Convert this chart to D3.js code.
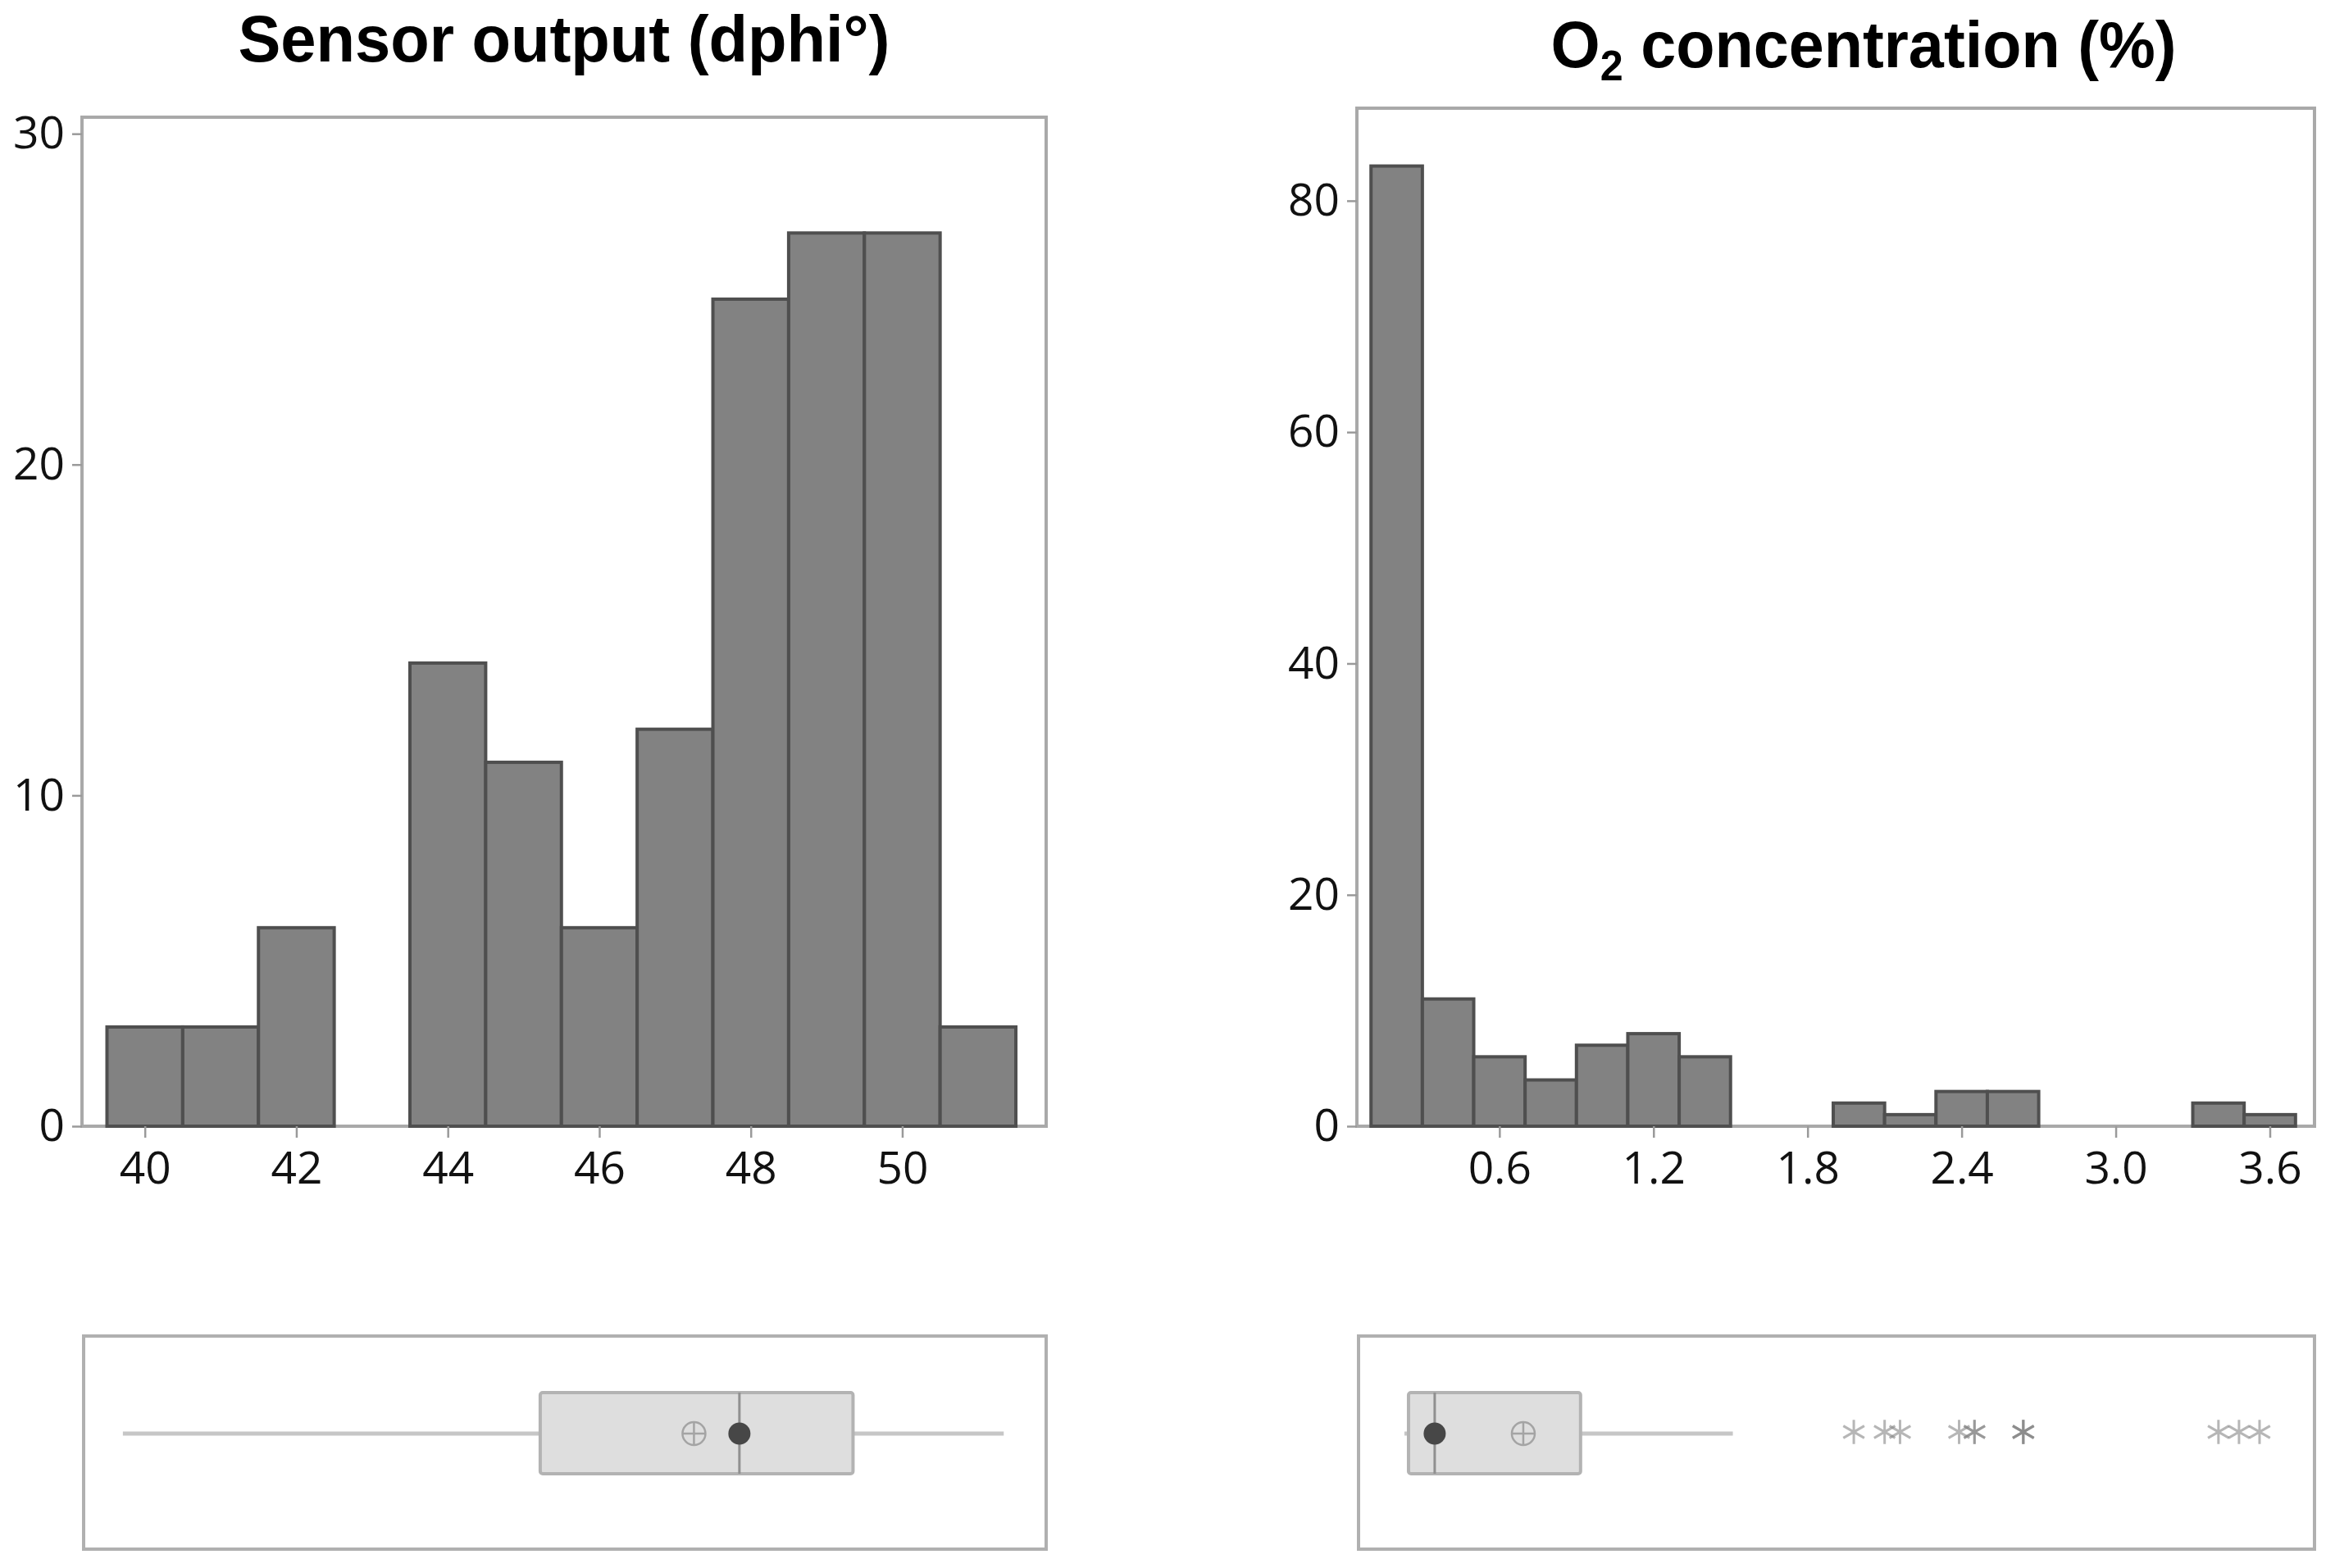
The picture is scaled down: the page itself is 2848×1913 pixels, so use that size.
<!DOCTYPE html>
<html>
<head>
<meta charset="utf-8">
<script src="https://cdn.jsdelivr.net/npm/d3@7"></script>
<style>
body { margin: 0; background: #fff; }
.tick text { font-family: "Open Sans", sans-serif; font-size: 55px; fill: #111; }
.title { font-family: "Liberation Sans", Arial, sans-serif; font-weight: bold; font-size: 80px; fill: #000; }
</style>
</head>
<body>
<div class="chart"></div>
<script>
// Sensor output (dphi) histogram + boxplot
var sensorEdges = [39.5, 40.5, 41.5, 42.5, 43.5, 44.5, 45.5, 46.5, 47.5, 48.5, 49.5, 50.5, 51.5];
var sensorCounts = [3, 3, 6, 0, 14, 11, 6, 12, 25, 27, 27, 3];
var sensorXTicks = [40, 42, 44, 46, 48, 50];
var sensorYTicks = [0, 10, 20, 30];
var sensorBox = [39.71, 45.22, 47.85, 49.35, 51.34]; // min, q1, median, q3, max
var sensorMean = 47.25;

// O2 concentration histogram + boxplot
var o2Edges = [0.1, 0.3, 0.5, 0.7, 0.9, 1.1, 1.3, 1.5, 1.7, 1.9, 2.1, 2.3, 2.5, 2.7, 2.9, 3.1, 3.3, 3.5, 3.7];
var o2Counts = [83, 11, 6, 4, 7, 8, 6, 0, 0, 2, 1, 3, 3, 0, 0, 0, 2, 1];
var o2XTicks = [0.6, 1.2, 1.8, 2.4, 3.0, 3.6];
var o2YTicks = [0, 20, 40, 60, 80];
var o2Box = [0.23, 0.246, 0.348, 0.916, 1.509];
var o2Mean = 0.693;
var o2Outliers = [1.98, 2.10, 2.16, 2.39, 2.45, 2.45, 2.64, 2.64, 2.64, 3.40, 3.48, 3.56];

var width = 2848;
var height = 1913;

var svg = d3.select('div.chart')
    .append('svg')
    .attr('width', width)
    .attr('height', height);

svg.append('rect').attr('width', width).attr('height', height).attr('fill', '#fff');

function drawPanel(p) {
    var x = d3.scaleLinear().domain(p.xDomain).range([p.left, p.right]);
    var y = d3.scaleLinear().domain(p.yDomain).range([1374, p.top]);

    // frame
    svg.append('rect')
        .attr('x', p.left).attr('y', p.top)
        .attr('width', p.right - p.left).attr('height', 1374 - p.top)
        .attr('fill', 'none').attr('stroke', '#a9a9a9').attr('stroke-width', 4);

    var bins = p.counts.map(function (c, i) {
        return { x0: p.edges[i], x1: p.edges[i + 1], n: c };
    });

    svg.append('g').selectAll('rect')
        .data(bins)
        .enter()
        .append('rect')
        .attr('x', d => x(d.x0))
        .attr('width', d => x(d.x1) - x(d.x0))
        .attr('y', d => y(d.n))
        .attr('height', d => y(0) - y(d.n))
        .attr('fill', '#828282')
        .attr('stroke', '#4f4f4f')
        .attr('stroke-width', 4);

    var xAxis = svg.append('g')
        .attr('transform', 'translate(0,1374)')
        .call(d3.axisBottom(x).tickValues(p.xTicks).tickFormat(p.fmt).tickSize(14).tickPadding(17));
    var yAxis = svg.append('g')
        .attr('transform', 'translate(' + p.left + ',0)')
        .call(d3.axisLeft(y).tickValues(p.yTicks).tickSize(12).tickPadding(9));
    [xAxis, yAxis].forEach(function (a) {
        a.select('.domain').remove();
        a.selectAll('.tick line').attr('stroke', '#9a9a9a').attr('stroke-width', 2.5);
        a.selectAll('.tick text').attr('font-size', null).attr('font-family', null);
    });

    // title
    var t = svg.append('text')
        .attr('class', 'title')
        .attr('x', p.titleX).attr('y', p.titleY)
        .attr('text-anchor', 'middle')
        .attr('textLength', p.titleLen)
        .attr('lengthAdjust', 'spacingAndGlyphs');
    p.title(t);

    // boxplot
    var bTop = 1630, bBot = 1890, cy = 1749;
    svg.append('rect')
        .attr('x', p.left + 2).attr('y', bTop)
        .attr('width', p.right - p.left - 2).attr('height', bBot - bTop)
        .attr('fill', 'none').attr('stroke', '#b0b0b0').attr('stroke-width', 4);

    var b = p.box;
    svg.append('line')
        .attr('x1', x(b[0])).attr('x2', x(b[1])).attr('y1', cy).attr('y2', cy)
        .attr('stroke', '#c6c6c6').attr('stroke-width', 5);
    svg.append('line')
        .attr('x1', x(b[3])).attr('x2', x(b[4])).attr('y1', cy).attr('y2', cy)
        .attr('stroke', '#c6c6c6').attr('stroke-width', 5);
    svg.append('rect')
        .attr('x', x(b[1])).attr('y', 1699)
        .attr('width', x(b[3]) - x(b[1])).attr('height', 99)
        .attr('rx', 3)
        .attr('fill', '#dedede').attr('stroke', '#b3b3b3').attr('stroke-width', 4);
    svg.append('line')
        .attr('x1', x(b[2])).attr('x2', x(b[2])).attr('y1', 1699).attr('y2', 1798)
        .attr('stroke', '#909090').attr('stroke-width', 3);
    svg.append('circle')
        .attr('cx', x(b[2])).attr('cy', cy).attr('r', 13.5)
        .attr('fill', '#474747');

    var mx = x(p.mean);
    svg.append('circle')
        .attr('cx', mx).attr('cy', cy).attr('r', 14)
        .attr('fill', 'none').attr('stroke', '#a4a4a4').attr('stroke-width', 2.5);
    svg.append('path')
        .attr('d', 'M' + (mx - 14) + ',' + cy + 'H' + (mx + 14) + 'M' + mx + ',' + (cy - 14) + 'V' + (cy + 14))
        .attr('stroke', '#a4a4a4').attr('stroke-width', 2.5);

    if (p.outliers) {
        svg.append('g').selectAll('path')
            .data(p.outliers)
            .enter()
            .append('path')
            .attr('transform', d => 'translate(' + x(d) + ',' + (cy - 2) + ')')
            .attr('d', d3.symbol().type(d3.symbolAsterisk).size(620))
            .attr('fill', 'none')
            .attr('stroke', '#858585')
            .attr('stroke-opacity', 0.6)
            .attr('stroke-width', 3);
    }
}

drawPanel({
    left: 100, right: 1276, top: 143,
    xDomain: [39.17, 51.9], yDomain: [0, 30.5],
    edges: sensorEdges, counts: sensorCounts,
    xTicks: sensorXTicks, yTicks: sensorYTicks, fmt: d3.format('d'),
    box: sensorBox, mean: sensorMean,
    titleX: 688, titleY: 75, titleLen: 795,
    title: function (t) {
        t.text('Sensor output (dphi°)');
    }
});

drawPanel({
    left: 1655, right: 2823, top: 132,
    xDomain: [0.045, 3.774], yDomain: [0, 88],
    edges: o2Edges, counts: o2Counts,
    xTicks: o2XTicks, yTicks: o2YTicks, fmt: d3.format('.1f'),
    box: o2Box, mean: o2Mean, outliers: o2Outliers,
    titleX: 2273, titleY: 82, titleLen: 763,
    title: function (t) {
        t.append('tspan').text('O');
        t.append('tspan').attr('font-size', '52px').attr('dy', 16).text('2');
        t.append('tspan').attr('dy', -16).text(' concentration (%)');
    }
});
</script>
</body>
</html>
